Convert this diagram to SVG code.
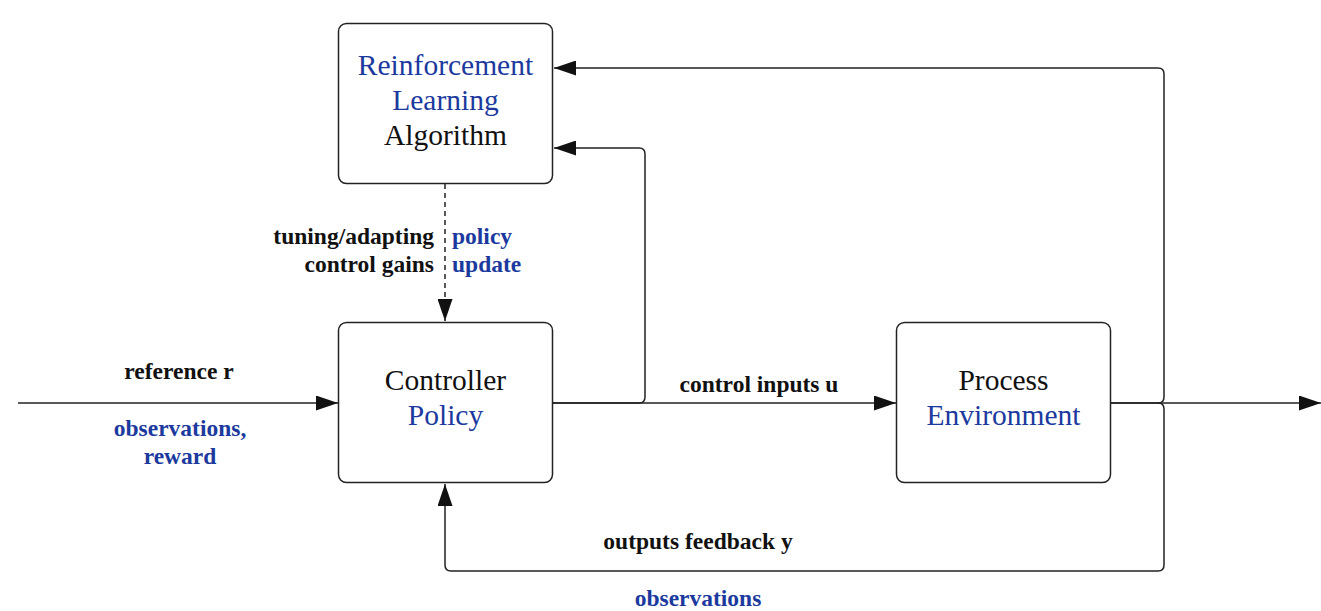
<svg xmlns="http://www.w3.org/2000/svg" width="1321" height="611" viewBox="0 0 1321 611">
<style>
.box{fill:#fff;stroke:#222;stroke-width:1.5}
.node{font-family:"Liberation Serif",serif;font-size:29.5px;text-anchor:middle}
.lbl{font-family:"Liberation Serif",serif;font-size:23.5px;font-weight:bold}
.blue{fill:#1c3a9e}
.blk{fill:#111}
.ln{fill:none;stroke:#222;stroke-width:1.5}
</style>
<defs>
<marker id="ah" viewBox="0 0 22 15" refX="22" refY="7.5" markerWidth="22" markerHeight="15" markerUnits="userSpaceOnUse" orient="auto">
<path d="M0,0 L22,7.5 L0,15 Z" fill="#111"/>
</marker>
</defs>
<g id="connectors">
<path class="ln" d="M18,403 H338" marker-end="url(#ah)"/>
<path class="ln" d="M552,403 H896" marker-end="url(#ah)"/>
<path class="ln" d="M552,403 H639 Q645,403 645,397 V154 Q645,148 639,148 H554" marker-end="url(#ah)"/>
<path class="ln" d="M1110,403 H1321" marker-end="url(#ah)"/>
<path class="ln" d="M1110,403 H1158 Q1164,403 1164,397 V74 Q1164,68 1158,68 H554" marker-end="url(#ah)"/>
<path class="ln" d="M1158,403 Q1164,403 1164,409 V565 Q1164,571 1158,571 H451 Q445,571 445,565 V484" marker-end="url(#ah)"/>
<path class="ln" d="M445,184 V321" stroke-dasharray="5,4" marker-end="url(#ah)"/>
</g>
<g id="rl">
<rect class="box" x="338.5" y="23.5" width="214" height="160" rx="8"/>
<text class="node blue" x="445.5" y="75">Reinforcement</text>
<text class="node blue" x="445.5" y="110">Learning</text>
<text class="node blk" x="445.5" y="145">Algorithm</text>
</g>
<g id="controller">
<rect class="box" x="338.5" y="322.5" width="214" height="160" rx="8"/>
<text class="node blk" x="445.5" y="390">Controller</text>
<text class="node blue" x="445.5" y="425">Policy</text>
</g>
<g id="process">
<rect class="box" x="896.5" y="322.5" width="214" height="160" rx="8"/>
<text class="node blk" x="1003.5" y="390">Process</text>
<text class="node blue" x="1003.5" y="425">Environment</text>
</g>
<g id="labels">
<text class="lbl blk" x="434" y="244" text-anchor="end">tuning/adapting</text>
<text class="lbl blk" x="434" y="272" text-anchor="end">control gains</text>
<text class="lbl blue" x="452" y="244">policy</text>
<text class="lbl blue" x="452" y="272">update</text>
<text class="lbl blk" x="179" y="379" text-anchor="middle">reference r</text>
<text class="lbl blue" x="180" y="436" text-anchor="middle">observations,</text>
<text class="lbl blue" x="180" y="464" text-anchor="middle">reward</text>
<text class="lbl blk" x="759" y="392" text-anchor="middle">control inputs u</text>
<text class="lbl blk" x="698" y="549" text-anchor="middle">outputs feedback y</text>
<text class="lbl blue" x="698" y="606" text-anchor="middle">observations</text>
</g>
</svg>
